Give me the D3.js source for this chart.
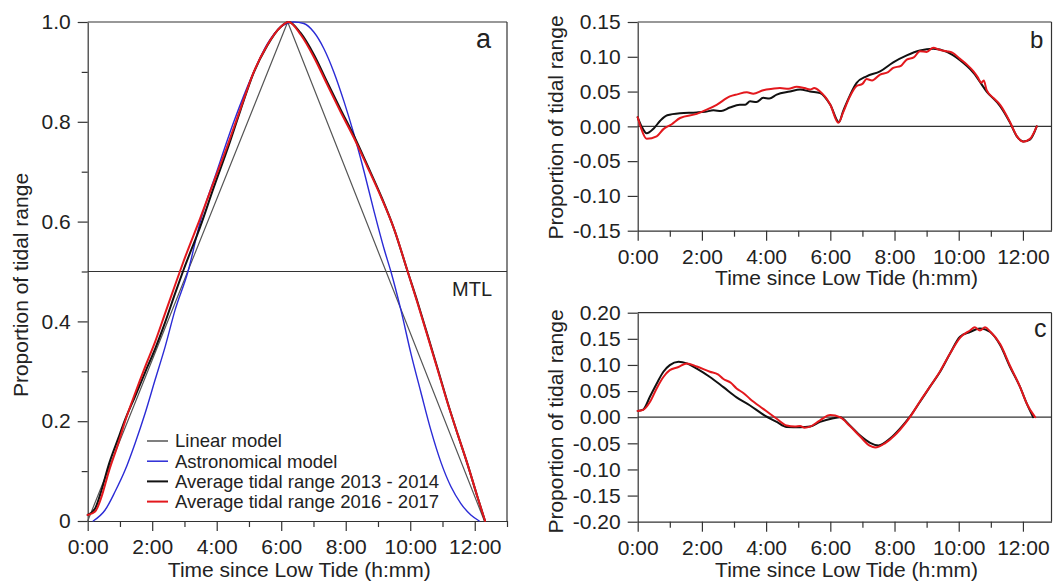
<!DOCTYPE html>
<html>
<head>
<meta charset="utf-8">
<script src="https://cdn.jsdelivr.net/npm/d3@7"></script>
<style>
  html, body { margin: 0; padding: 0; background: #fff; }
  svg { display: block; font-family: "Liberation Sans", Arial, sans-serif; }
  .tick text { fill: #222; }
</style>
</head>
<body>
<svg id="chart" width="1053" height="582"></svg>
<script>
// ---------- DATA ----------
const xMajorHours = [0, 2, 4, 6, 8, 10, 12];
const xMinorHours = [1, 3, 5, 7, 9, 11, 13];
const yTicksA = [0, 0.2, 0.4, 0.6, 0.8, 1.0];
const yMinorA = [0.1, 0.3, 0.5, 0.7, 0.9];
const yTicksB = [-0.15, -0.10, -0.05, 0.00, 0.05, 0.10, 0.15];
const yTicksC = [-0.20, -0.15, -0.10, -0.05, 0.00, 0.05, 0.10, 0.15, 0.20];
const legendLabels = ["Linear model", "Astronomical model", "Average tidal range 2013 - 2014", "Average tidal range 2016 - 2017"];

// Panel a: [hours since low tide, proportion of tidal range]
const linearModel = [[0, 0], [6.2, 1], [12.3, 0]];
const astronomicalModel = [[0.17,0],[0.54,0.022],[0.85,0.059],[1.16,0.102],[1.47,0.156],[1.78,0.216],[2.09,0.283],[2.4,0.349],[2.71,0.423],[3.11,0.5],[3.49,0.6],[4.0,0.7],[4.53,0.8],[5.15,0.9],[5.56,0.955],[5.98,0.99],[6.39,1.0],[6.7,0.997],[7.01,0.98],[7.32,0.947],[7.63,0.9],[7.95,0.84],[8.26,0.774],[8.57,0.70],[8.88,0.62],[9.19,0.545],[9.4,0.5],[9.71,0.423],[10.02,0.336],[10.33,0.258],[10.64,0.182],[10.95,0.118],[11.26,0.069],[11.57,0.035],[11.88,0.012],[12.14,0]];
const avgA_2013 = [[0,0.012],[0.23,0.025],[0.43,0.062],[0.64,0.11],[0.95,0.166],[1.16,0.203],[1.47,0.25],[1.78,0.298],[2.09,0.345],[2.4,0.398],[2.71,0.456],[2.97,0.503],[3.49,0.59],[3.9,0.667],[4.32,0.743],[4.73,0.822],[5.15,0.899],[5.56,0.952],[5.98,0.99],[6.23,1.0],[6.6,0.978],[7.01,0.935],[7.43,0.879],[7.84,0.825],[8.26,0.771],[8.67,0.713],[9.09,0.652],[9.5,0.585],[9.92,0.5],[10.23,0.438],[10.54,0.372],[10.85,0.305],[11.16,0.237],[11.47,0.174],[11.78,0.113],[12.09,0.047],[12.32,0]];
const avgA_2016 = [[0,0.012],[0.23,0.019],[0.43,0.049],[0.64,0.096],[0.95,0.156],[1.16,0.2],[1.47,0.256],[1.78,0.309],[2.09,0.359],[2.4,0.416],[2.71,0.473],[2.97,0.52],[3.49,0.607],[3.9,0.678],[4.32,0.75],[4.73,0.825],[5.15,0.9],[5.56,0.953],[5.98,0.99],[6.23,1.0],[6.6,0.975],[7.01,0.93],[7.43,0.874],[7.84,0.82],[8.26,0.767],[8.67,0.71],[9.09,0.65],[9.5,0.585],[9.92,0.5],[10.23,0.436],[10.54,0.37],[10.85,0.303],[11.16,0.236],[11.47,0.174],[11.78,0.113],[12.09,0.047],[12.32,0]];

// Panel b: deviation from linear model
const devLinear_2013 = [[0,0.013],[0.12,0.0],[0.28,-0.01],[0.5,-0.003],[0.7,0.008],[0.92,0.016],[1.32,0.019],[1.84,0.020],[2.1,0.021],[2.36,0.023],[2.6,0.022],[2.87,0.027],[3.18,0.031],[3.35,0.031],[3.5,0.036],[3.7,0.035],[3.91,0.041],[4.1,0.040],[4.33,0.0457],[4.74,0.050],[5.06,0.053],[5.37,0.050],[5.68,0.048],[6.0,0.031],[6.27,0.006],[6.4,0.022],[6.51,0.034],[6.82,0.0625],[7.13,0.072],[7.55,0.079],[7.96,0.092],[8.38,0.102],[8.79,0.109],[9.21,0.1115],[9.63,0.107],[10.04,0.095],[10.46,0.077],[10.87,0.050],[11.29,0.029],[11.6,0.005],[11.81,-0.0144],[12.01,-0.0216],[12.22,-0.019],[12.43,0.0]];
const devLinear_2016 = [[0,0.013],[0.1,-0.002],[0.28,-0.018],[0.59,-0.0144],[0.8,-0.004],[1.06,0.003],[1.32,0.012],[1.84,0.018],[2.15,0.024],[2.46,0.031],[2.87,0.043],[3.1,0.046],[3.4,0.049],[3.6,0.047],[3.91,0.052],[4.2,0.054],[4.43,0.055],[4.7,0.054],[4.95,0.057],[5.2,0.055],[5.37,0.053],[5.5,0.055],[5.68,0.050],[6.0,0.031],[6.25,0.005],[6.4,0.02],[6.6,0.042],[6.82,0.058],[7.0,0.061],[7.13,0.068],[7.3,0.066],[7.55,0.0745],[7.8,0.078],[7.96,0.084],[8.2,0.087],[8.38,0.096],[8.6,0.099],[8.79,0.108],[9.0,0.107],[9.21,0.113],[9.4,0.110],[9.63,0.108],[9.8,0.106],[10.04,0.097],[10.25,0.089],[10.46,0.079],[10.6,0.070],[10.7,0.0625],[10.78,0.066],[10.87,0.052],[11.1,0.040],[11.29,0.031],[11.6,0.006],[11.81,-0.014],[12.01,-0.022],[12.22,-0.018],[12.43,0.0]];

// Panel c: deviation from astronomical model
const devAstro_2013 = [[0,0.012],[0.17,0.0145],[0.38,0.039],[0.59,0.064],[0.8,0.087],[1.0,0.0996],[1.27,0.106],[1.53,0.103],[1.84,0.093],[2.25,0.077],[2.67,0.0575],[3.08,0.038],[3.5,0.0224],[3.91,0.005],[4.33,-0.009],[4.64,-0.0186],[5.06,-0.019],[5.37,-0.018],[5.68,-0.009],[6.09,-0.002],[6.3,0.0],[6.61,-0.0157],[6.93,-0.035],[7.24,-0.049],[7.5,-0.054],[7.86,-0.041],[8.17,-0.022],[8.48,0.001],[8.79,0.029],[9.1,0.058],[9.42,0.087],[9.73,0.122],[10.04,0.154],[10.35,0.163],[10.66,0.17],[10.98,0.163],[11.29,0.138],[11.6,0.096],[11.91,0.058],[12.12,0.026],[12.32,0.0]];
const devAstro_2016 = [[0,0.012],[0.17,0.014],[0.38,0.029],[0.59,0.055],[0.8,0.077],[1.0,0.090],[1.27,0.096],[1.53,0.103],[1.84,0.097],[2.25,0.087],[2.5,0.082],[2.67,0.073],[2.9,0.066],[3.08,0.055],[3.3,0.046],[3.5,0.035],[3.91,0.016],[4.33,-0.003],[4.64,-0.016],[4.9,-0.018],[5.06,-0.017],[5.2,-0.020],[5.37,-0.018],[5.68,-0.006],[6.0,0.004],[6.3,0.0],[6.61,-0.017],[6.93,-0.037],[7.24,-0.055],[7.4,-0.058],[7.7,-0.05],[8.0,-0.035],[8.17,-0.024],[8.48,0.0],[8.79,0.03],[9.1,0.058],[9.42,0.088],[9.73,0.122],[10.04,0.152],[10.35,0.166],[10.5,0.172],[10.66,0.166],[10.82,0.172],[10.98,0.164],[11.29,0.14],[11.6,0.098],[11.91,0.058],[12.12,0.026],[12.38,0.0]];

// ---------- DRAWING ----------
const svg = d3.select("#chart");
const AX = "#333";
const TXT = "#222";
const FONT_TICK = 21;
const COL = { linear: "#555", astro: "#2b2bd6", y2013: "#111", y2016: "#e3181d" };

const fmtH = h => `${h}:00`;

function drawPanel(cfg) {
  const x = d3.scaleLinear().domain(cfg.xDomain).range(cfg.xRange);
  const y = d3.scaleLinear().domain(cfg.yDomain).range(cfg.yRange);
  const g = svg.append("g");

  // frame: top and right
  g.append("line").attr("x1", x.range()[0]).attr("x2", x.range()[1]).attr("y1", y.range()[1]).attr("y2", y.range()[1])
    .attr("stroke", AX).attr("stroke-width", 1.2);
  g.append("line").attr("x1", x.range()[1]).attr("x2", x.range()[1]).attr("y1", y.range()[0]).attr("y2", y.range()[1])
    .attr("stroke", AX).attr("stroke-width", 1.2);

  // x axis
  g.append("g").attr("transform", `translate(0,${y.range()[0]})`)
    .call(d3.axisBottom(x).tickValues(xMajorHours).tickFormat(fmtH).tickSize(10).tickSizeOuter(0).tickPadding(8));
  g.append("g").attr("transform", `translate(0,${y.range()[0]})`)
    .call(d3.axisBottom(x).tickValues(xMinorHours.filter(h => h <= cfg.xDomain[1])).tickFormat("").tickSize(6).tickSizeOuter(0))
    .call(s => s.select(".domain").remove());

  // y axis
  g.append("g").attr("transform", `translate(${x.range()[0]},0)`)
    .call(d3.axisLeft(y).tickValues(cfg.yTicks).tickFormat(cfg.yFormat).tickSize(10).tickSizeOuter(0).tickPadding(7));
  if (cfg.yMinor) {
    g.append("g").attr("transform", `translate(${x.range()[0]},0)`)
      .call(d3.axisLeft(y).tickValues(cfg.yMinor).tickFormat("").tickSize(6).tickSizeOuter(0))
      .call(s => s.select(".domain").remove());
  }
  g.selectAll(".domain, .tick line").attr("stroke", AX).attr("stroke-width", 1.2);
  g.selectAll(".tick text").attr("font-size", FONT_TICK).attr("font-family", "Liberation Sans, Arial, sans-serif").attr("fill", TXT);

  // reference line
  g.append("line").attr("x1", x.range()[0]).attr("x2", x.range()[1])
    .attr("y1", y(cfg.refLine)).attr("y2", y(cfg.refLine))
    .attr("stroke", AX).attr("stroke-width", 1.2);

  // series
  cfg.series.forEach(s => {
    const line = d3.line().x(d => x(d[0])).y(d => y(d[1])).curve(s.curve || d3.curveMonotoneX);
    g.append("path").datum(s.data).attr("d", line)
      .attr("fill", "none").attr("stroke", s.color).attr("stroke-width", s.width)
      .attr("stroke-linejoin", "round").attr("stroke-linecap", "round");
  });

  // titles
  g.append("text").attr("x", (x.range()[0] + x.range()[1]) / 2 + 2).attr("y", cfg.xTitleY)
    .attr("text-anchor", "middle").attr("font-size", FONT_TICK).attr("fill", TXT)
    .text("Time since Low Tide (h:mm)");
  g.append("text").attr("transform", `translate(${cfg.yTitle[0]},${cfg.yTitle[1]}) rotate(-90)`)
    .attr("text-anchor", "middle").attr("font-size", FONT_TICK).attr("fill", TXT)
    .text("Proportion of tidal range");
  g.append("text").attr("x", cfg.letter[0]).attr("y", cfg.letter[1])
    .attr("font-size", cfg.letter[3]).attr("fill", TXT).text(cfg.letter[2]);
  return { x, y, g };
}

const pa = drawPanel({
  xDomain: [0, 13], xRange: [87.7, 507],
  yDomain: [0, 1], yRange: [521, 22],
  yTicks: yTicksA, yMinor: yMinorA,
  yFormat: d => d === 0 ? "0" : d.toFixed(1),
  refLine: 0.5,
  xTitleY: 577, yTitle: [28, 285], letter: [476, 48.3, "a", 27],
  series: [
    { data: linearModel, color: COL.linear, width: 1.2, curve: d3.curveLinear },
    { data: astronomicalModel, color: COL.astro, width: 1.4 },
    { data: avgA_2013, color: COL.y2013, width: 2 },
    { data: avgA_2016, color: COL.y2016, width: 2 }
  ]
});
pa.g.append("text").attr("x", 492).attr("y", 296).attr("text-anchor", "end")
  .attr("font-size", 20).attr("fill", TXT).text("MTL");

// legend
const legColors = [COL.linear, COL.astro, COL.y2013, COL.y2016];
const legWidths = [1.5, 1.5, 2, 2];
legendLabels.forEach((lab, i) => {
  const cy = 441 + i * 20.2;
  pa.g.append("line").attr("x1", 147).attr("x2", 168).attr("y1", cy).attr("y2", cy)
    .attr("stroke", legColors[i]).attr("stroke-width", legWidths[i]);
  pa.g.append("text").attr("x", 175).attr("y", cy).attr("dy", "0.35em")
    .attr("font-size", 18.5).attr("fill", TXT).text(lab);
});

drawPanel({
  xDomain: [0, 12.89], xRange: [637.7, 1051.5],
  yDomain: [-0.15, 0.15], yRange: [230.7, 22],
  yTicks: yTicksB, yFormat: d => d.toFixed(2),
  refLine: 0,
  xTitleY: 285, yTitle: [563, 127.5], letter: [1030, 48.3, "b", 24],
  series: [
    { data: devLinear_2013, color: COL.y2013, width: 2 },
    { data: devLinear_2016, color: COL.y2016, width: 2 }
  ]
});

drawPanel({
  xDomain: [0, 12.89], xRange: [637.7, 1051.5],
  yDomain: [-0.2, 0.2], yRange: [521.7, 312.7],
  yTicks: yTicksC, yFormat: d => d.toFixed(2),
  refLine: 0,
  xTitleY: 577, yTitle: [563, 421.5], letter: [1034, 337, "c", 25],
  series: [
    { data: devAstro_2013, color: COL.y2013, width: 2 },
    { data: devAstro_2016, color: COL.y2016, width: 2 }
  ]
});
</script>
</body>
</html>
